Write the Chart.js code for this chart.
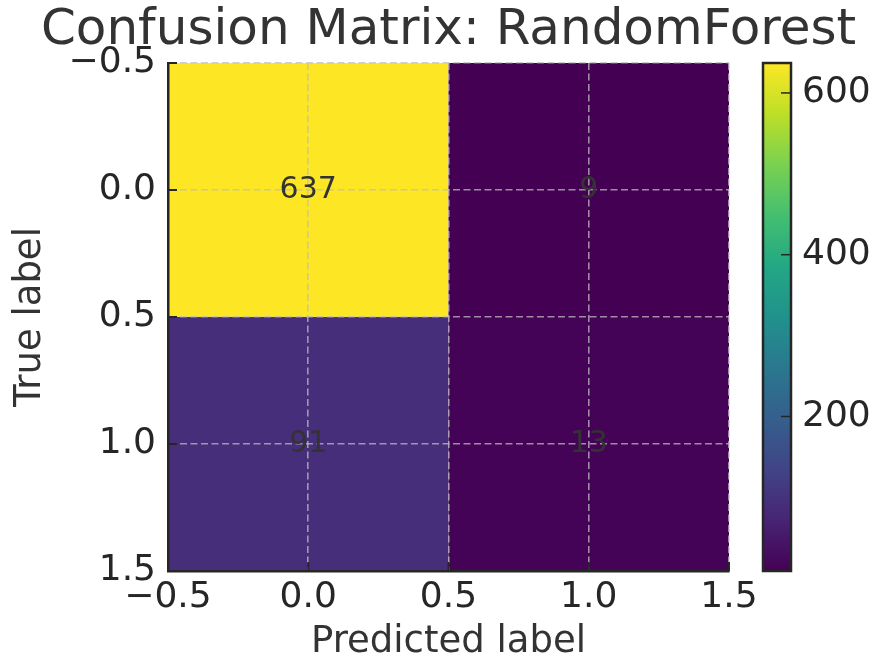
<!DOCTYPE html>
<html><head><meta charset="utf-8">
<script src="https://cdn.jsdelivr.net/npm/chart.js@4.4.1/dist/chart.umd.min.js"></script>
<style>html,body{margin:0;padding:0;background:#fff;}</style>
</head><body>
<canvas id="c" width="877" height="666"></canvas>
<script>
// ---- data ----
const trueLabels = [0, 1];
const predLabels = [0, 1];
const row0 = [637, 9];
const row1 = [91, 13];
const matrix = [row0, row1];
const axisTicks = [-0.5, 0, 0.5, 1, 1.5];
const colorbarTicks = [200, 400, 600];
const titleText = 'Confusion Matrix: RandomForest';
const xTitle = 'Predicted label';
const yTitle = 'True label';

// ---- style ----
const FONT = "'DejaVu Sans', sans-serif";
const viridis = ['#440154','#482475','#414487','#355f8d','#2a788e','#21918c','#22a884','#44bf70','#7ad151','#bddf26','#fde725'];
function hex2rgb(h){return [parseInt(h.slice(1,3),16),parseInt(h.slice(3,5),16),parseInt(h.slice(5,7),16)];}
function cmap(t){
  t = Math.max(0, Math.min(1, t));
  const n = viridis.length - 1, f = t * n, i = Math.min(Math.floor(f), n - 1), r = f - i;
  const a = hex2rgb(viridis[i]), b = hex2rgb(viridis[i+1]);
  return 'rgb(' + a.map((v,k)=>Math.round(v + (b[k]-v)*r)).join(',') + ')';
}
const allVals = matrix.flat();
const vmin = Math.min(...allVals), vmax = Math.max(...allVals);
const fmt = v => (v < 0 ? '\u2212' : '') + Math.abs(v).toFixed(1);
const spine = '#262626';

const heatPlugin = {
  id: 'heat',
  beforeDraw(chart){
    const {ctx, scales:{x, y}} = chart;
    ctx.save();
    matrix.forEach((row, i) => row.forEach((v, j) => {
      const x0 = x.getPixelForValue(predLabels[j] - 0.5), x1 = x.getPixelForValue(predLabels[j] + 0.5);
      const y0 = y.getPixelForValue(trueLabels[i] - 0.5), y1 = y.getPixelForValue(trueLabels[i] + 0.5);
      ctx.fillStyle = cmap((v - vmin) / (vmax - vmin));
      ctx.fillRect(Math.min(x0,x1), Math.min(y0,y1), Math.abs(x1-x0), Math.abs(y1-y0));
    }));
    ctx.restore();
  },
  afterDraw(chart){
    const {ctx, chartArea, scales:{x, y, cb}} = chart;
    ctx.save();
    // title, centred over the axes
    ctx.font = '50px ' + FONT;
    ctx.fillStyle = '#333333';
    ctx.textAlign = 'center';
    ctx.textBaseline = 'middle';
    ctx.fillText(titleText, (chartArea.left + chartArea.right) / 2, 31);
    // annotations
    ctx.font = '30px ' + FONT;
    matrix.forEach((row, i) => row.forEach((v, j) => {
      ctx.fillText(String(v), x.getPixelForValue(predLabels[j]), y.getPixelForValue(trueLabels[i]));
    }));
    // inward tick marks
    ctx.strokeStyle = spine;
    ctx.lineWidth = 2;
    const TL = 9;
    axisTicks.forEach(v => {
      const px = x.getPixelForValue(v);
      ctx.beginPath(); ctx.moveTo(px, chartArea.bottom); ctx.lineTo(px, chartArea.bottom - TL); ctx.stroke();
      const py = y.getPixelForValue(v);
      ctx.beginPath(); ctx.moveTo(chartArea.left, py); ctx.lineTo(chartArea.left + TL, py); ctx.stroke();
    });
    // colorbar
    const bx0 = cb.left + 34, bx1 = cb.left + 62;
    const byTop = cb.getPixelForValue(vmax), byBot = cb.getPixelForValue(vmin);
    const g = ctx.createLinearGradient(0, byBot, 0, byTop);
    for (let k = 0; k <= 50; k++) g.addColorStop(k / 50, cmap(k / 50));
    ctx.fillStyle = g;
    ctx.fillRect(bx0, byTop, bx1 - bx0, byBot - byTop);
    ctx.strokeStyle = spine;
    ctx.lineWidth = 1.5;
    colorbarTicks.forEach(v => {
      const py = cb.getPixelForValue(v);
      ctx.beginPath(); ctx.moveTo(bx1, py); ctx.lineTo(bx1 - 10, py); ctx.stroke();
    });
    ctx.lineWidth = 2.5;
    ctx.strokeRect(bx0, byTop, bx1 - bx0, byBot - byTop);
    ctx.restore();
  }
};

const gridCommon = {
  color: 'rgba(190,190,190,0.75)',
  lineWidth: 1.6,
  drawTicks: false
};

new Chart(document.getElementById('c'), {
  type: 'scatter',
  data: { datasets: [{ data: [] }] },
  options: {
    responsive: false,
    devicePixelRatio: 1,
    animation: false,
    layout: { padding: { top: 63, left: 0, right: 0, bottom: 0 } },
    plugins: {
      legend: { display: false },
      tooltip: { enabled: false },
      title: { display: false }
    },
    scales: {
      x: {
        type: 'linear', position: 'bottom', min: -0.5, max: 1.5,
        afterBuildTicks: s => { s.ticks = axisTicks.map(v => ({ value: v })); },
        afterFit: s => { s.height = 95; },
        ticks: { autoSkip: false, maxRotation: 0, padding: 5, color: spine,
          font: { family: FONT, size: 36 }, callback: v => fmt(v) },
        grid: gridCommon,
        border: { display: true, color: spine, width: 2.5, dash: [7, 3.5] },
        title: { display: true, text: xTitle, color: '#333333',
          font: { family: FONT, size: 37 }, padding: { top: 0, bottom: 1 } }
      },
      y: {
        type: 'linear', position: 'left', min: -0.5, max: 1.5, reverse: true,
        afterBuildTicks: s => { s.ticks = axisTicks.map(v => ({ value: v })); },
        afterFit: s => { s.width = 168; },
        ticks: { autoSkip: false, padding: 12, color: spine,
          font: { family: FONT, size: 36 }, callback: v => fmt(v) },
        grid: gridCommon,
        border: { display: true, color: spine, width: 2.5, dash: [7, 3.5] },
        title: { display: true, text: yTitle, color: '#333333',
          font: { family: FONT, size: 37 }, padding: { top: 8, bottom: 0 } }
      },
      cb: {
        type: 'linear', axis: 'y', position: 'right', min: vmin, max: vmax,
        afterBuildTicks: s => { s.ticks = colorbarTicks.map(v => ({ value: v })); },
        afterFit: s => { s.width = 148; },
        ticks: { autoSkip: false, padding: 11, color: spine,
          font: { family: FONT, size: 36 } },
        grid: { display: false, drawTicks: true, tickLength: 62 },
        border: { display: false }
      }
    }
  },
  plugins: [heatPlugin]
});
</script>
</body></html>
